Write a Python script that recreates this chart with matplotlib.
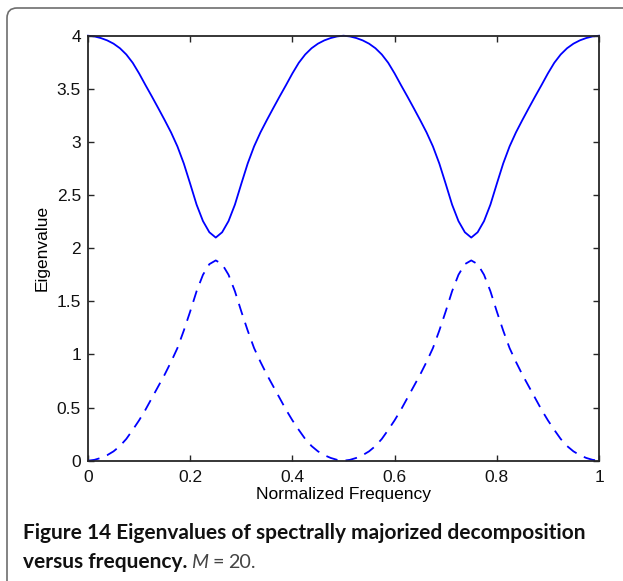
import numpy as np
import matplotlib
matplotlib.use("Agg")
import matplotlib.pyplot as plt
from matplotlib.patches import FancyBboxPatch
from matplotlib.transforms import IdentityTransform

# normalized frequency grid (step 0.0125)
freq = np.linspace(0, 1, 81)

# larger eigenvalue (solid)
eig_major = [4.000, 3.993, 3.978, 3.956, 3.925, 3.882, 3.823, 3.745, 3.645, 3.535,
             3.428, 3.318, 3.206, 3.090, 2.958, 2.797, 2.606, 2.410, 2.255, 2.150,
             2.100, 2.150, 2.255, 2.410, 2.606, 2.797, 2.958, 3.090, 3.206, 3.318,
             3.428, 3.535, 3.645, 3.745, 3.823, 3.882, 3.925, 3.956, 3.978, 3.993,
             4.000, 3.993, 3.978, 3.956, 3.925, 3.882, 3.823, 3.745, 3.645, 3.535,
             3.428, 3.318, 3.206, 3.090, 2.958, 2.797, 2.606, 2.410, 2.255, 2.150,
             2.100, 2.150, 2.255, 2.410, 2.606, 2.797, 2.958, 3.090, 3.206, 3.318,
             3.428, 3.535, 3.645, 3.745, 3.823, 3.882, 3.925, 3.956, 3.978, 3.993,
             4.000]

# smaller eigenvalue (dashed)
eig_minor = [0.000, 0.008, 0.026, 0.052, 0.088, 0.138, 0.205, 0.290, 0.380, 0.480,
             0.590, 0.700, 0.810, 0.930, 1.060, 1.225, 1.405, 1.595, 1.750, 1.850,
             1.885, 1.850, 1.750, 1.595, 1.405, 1.225, 1.060, 0.930, 0.810, 0.700,
             0.590, 0.480, 0.380, 0.290, 0.205, 0.138, 0.088, 0.052, 0.026, 0.008,
             0.000, 0.008, 0.026, 0.052, 0.088, 0.138, 0.205, 0.290, 0.380, 0.480,
             0.590, 0.700, 0.810, 0.930, 1.060, 1.225, 1.405, 1.595, 1.750, 1.850,
             1.885, 1.850, 1.750, 1.595, 1.405, 1.225, 1.060, 0.930, 0.810, 0.700,
             0.590, 0.480, 0.380, 0.290, 0.205, 0.138, 0.088, 0.052, 0.026, 0.008,
             0.000]

xticks = [0, 0.2, 0.4, 0.6, 0.8, 1]
xtick_labels = ["0", "0.2", "0.4", "0.6", "0.8", "1"]
yticks = [0, 0.5, 1, 1.5, 2, 2.5, 3, 3.5, 4]
ytick_labels = ["0", "0.5", "1", "1.5", "2", "2.5", "3", "3.5", "4"]

W, H = 623, 581
fig = plt.figure(figsize=(W / 100, H / 100), dpi=100)
fig.patch.set_facecolor("white")

# rounded frame (only top and left edges visible)
frame = FancyBboxPatch((7, -60), 720, H - 8 + 60,
                       boxstyle="round,pad=0,rounding_size=10",
                       transform=IdentityTransform(), fill=False,
                       edgecolor="#6e6e6e", linewidth=1.2)
fig.add_artist(frame)

ax = fig.add_axes([88 / W, 1 - 460.7 / H, 511 / W, 425 / H])
ax.plot(freq, eig_major, color="#0000ff", lw=1.3, clip_on=False)
ax.plot(freq, eig_minor, color="#0000ff", lw=1.3, ls=(0, (6.5, 4.5)), clip_on=False)

ax.set_xlim(0, 1)
ax.set_ylim(0, 4)
ax.set_xticks(xticks)
ax.set_xticklabels(xtick_labels)
ax.set_yticks(yticks)
ax.set_yticklabels(ytick_labels)

tick_font = dict(family="Liberation Sans", size=12.5)
for lab in ax.get_xticklabels() + ax.get_yticklabels():
    lab.set_fontfamily("Liberation Sans")
    lab.set_fontsize(12.5)
ax.tick_params(direction="in", length=4, width=1.0, top=True, right=True,
               color="#262626", labelcolor="#111111")
ax.tick_params(axis="y", pad=5)
ax.tick_params(axis="x", pad=7)
for sp in ax.spines.values():
    sp.set_linewidth(1.3)
    sp.set_color("#262626")

ax.set_xlabel("Normalized Frequency", fontdict=tick_font, labelpad=1)
ax.set_ylabel("Eigenvalue", fontdict=tick_font, labelpad=5)

# caption
renderer = fig.canvas.get_renderer()
cap_font = ["Lato", "DejaVu Sans"]
line1 = fig.text(23 / W, 1 - 539 / H,
                 "Figure 14 Eigenvalues of spectrally majorized decomposition",
                 family=cap_font, weight="bold", size=13, va="baseline", color="#111111")
w1 = line1.get_window_extent(renderer).width
size = 13 * 561 / w1
line1.set_fontsize(size)

y2 = 1 - 567.7 / H
t_a = fig.text(23 / W, y2, "versus frequency.", family=cap_font, weight="bold",
               size=size, va="baseline", color="#111111")
ext = t_a.get_window_extent(renderer)
t_b = fig.text((ext.x1 + 4) / W, y2, "M", family=cap_font, style="italic",
               size=size * 0.95, va="baseline", color="#444444")
ext = t_b.get_window_extent(renderer)
t_c = fig.text((ext.x1 + 4) / W, y2, "=", family=cap_font,
               size=size * 0.95, va="baseline", color="#444444")
ext = t_c.get_window_extent(renderer)
fig.text((ext.x1 + 4) / W, y2, "20.", family=cap_font,
         size=size * 0.95, va="baseline", color="#444444")

fig.savefig("out.png", dpi=100)
